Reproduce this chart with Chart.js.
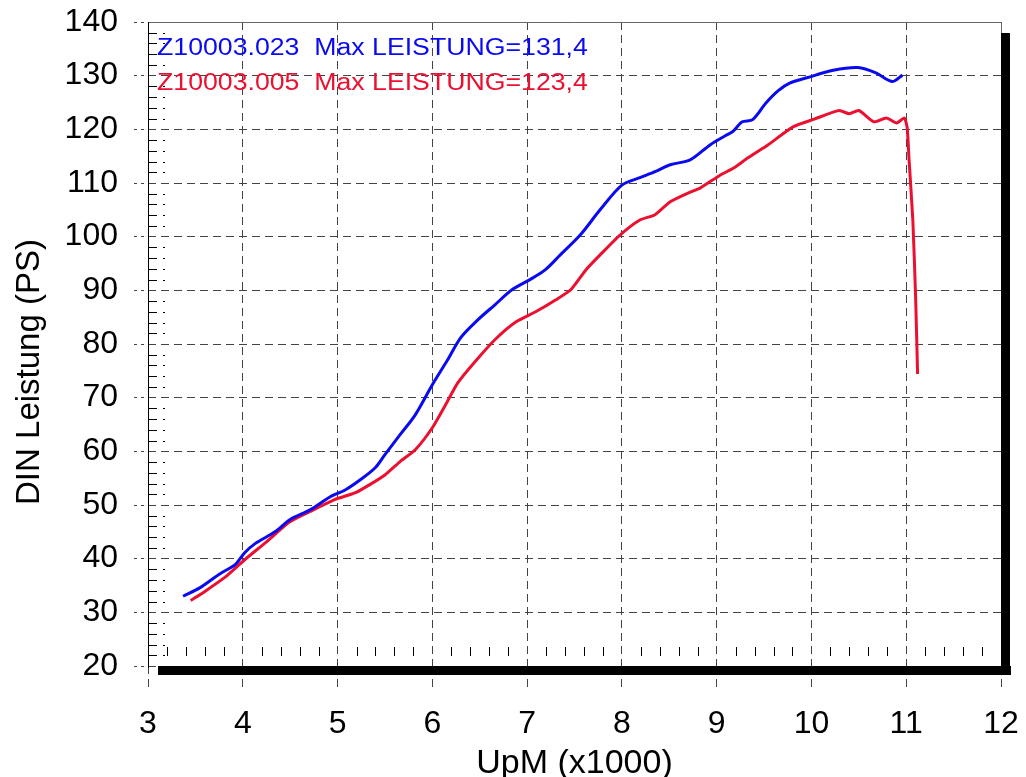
<!DOCTYPE html>
<html>
  <head>
    <title>DIN Leistung</title>
    <script src="https://cdn.jsdelivr.net/npm/chart.js"></script>
    <style>
      body { margin: 0; background: #fff; }
      .chart-container { width: 1026px; height: 777px; }
    </style>
  </head>
  <body>
    <div class="chart-container">
      <canvas id="myChart"></canvas>
    </div>

    <script>
      // series names (shown top-left of the plot)
      const seriesNames = ["Z10003.023  Max LEISTUNG=131,4", "Z10003.005  Max LEISTUNG=123,4"];

      // blue run: UpM (x1000) and PS
      const blueRpm = [3.37, 3.55, 3.76, 3.92, 4.02, 4.13, 4.34, 4.5, 4.71, 4.92, 5.08, 5.24, 5.4, 5.5, 5.66, 5.82, 6.0, 6.16, 6.3, 6.48, 6.66, 6.84, 7.03, 7.19, 7.35, 7.56, 7.77, 8.0, 8.19, 8.35, 8.51, 8.72, 8.93, 9.09, 9.17, 9.27, 9.38, 9.52, 9.65, 9.77, 9.95, 10.23, 10.49, 10.68, 10.85, 10.96];
      const bluePs = [33, 34.6, 37.2, 38.9, 41.1, 42.8, 45, 47.3, 49.1, 51.5, 52.8, 54.7, 57, 59.4, 63.1, 66.8, 72.4, 77, 81.2, 84.5, 87.3, 90.1, 92, 93.8, 96.6, 100.3, 105, 109.6, 111, 112.1, 113.4, 114.3, 117.1, 118.8, 119.6, 121.4, 121.8, 124.9, 127.2, 128.6, 129.6, 131, 131.5, 130.5, 128.9, 130.1];

      // red run
      const redRpm = [3.45, 3.6, 3.81, 4.02, 4.24, 4.5, 4.71, 4.97, 5.19, 5.34, 5.5, 5.66, 5.82, 6.0, 6.14, 6.27, 6.45, 6.66, 6.88, 7.09, 7.3, 7.46, 7.62, 7.77, 7.98, 8.19, 8.35, 8.51, 8.72, 8.83, 9.04, 9.18, 9.33, 9.54, 9.81, 10.03, 10.29, 10.4, 10.5, 10.66, 10.79, 10.9, 10.98, 11.01, 11.03, 11.07, 11.1, 11.12];
      const redPs = [32.2, 33.9, 36.5, 39.8, 43, 46.9, 48.8, 51, 52.3, 53.8, 55.6, 58.1, 60.3, 64.4, 68.7, 72.8, 76.7, 80.8, 84.1, 86, 88.2, 90.1, 93.8, 96.6, 100.3, 103.1, 104.1, 106.5, 108.3, 109.1, 111.5, 112.8, 114.7, 117.1, 120.5, 121.9, 123.5, 122.9, 123.5, 121.4, 122.1, 121.2, 122.1, 120.3, 114.3, 103, 88.2, 74.4];

      const xTitle = "UpM (x1000)";
      const yTitle = "DIN Leistung (PS)";

      const BLUE = "#0a0af0";
      const RED = "#ec1030";

      function pts(xs, ys) {
        return xs.map((x, i) => ({ x: x, y: ys[i] }));
      }

      // frame, shadow, minor ticks, labels in the corner
      const decor = {
        id: "decor",
        afterDraw(chart) {
          const ctx = chart.ctx;
          const a = chart.chartArea;
          const xs = chart.scales.x;
          const ys = chart.scales.y;
          ctx.save();

          // thin frame top/right
          ctx.strokeStyle = "#666";
          ctx.lineWidth = 1;
          ctx.beginPath();
          ctx.moveTo(a.left, a.top + 0.5);
          ctx.lineTo(a.right + 0.5, a.top + 0.5);
          ctx.lineTo(a.right + 0.5, a.bottom);
          ctx.stroke();

          // minor ticks on y
          ctx.strokeStyle = "#000";
          for (let v = 22; v < 140; v += 2) {
            if (v % 10 === 0) continue;
            const py = Math.round(ys.getPixelForValue(v)) + 0.5;
            ctx.beginPath();
            ctx.moveTo(a.left, py);
            ctx.lineTo(a.left + 9, py);
            ctx.moveTo(a.left + 15, py);
            ctx.lineTo(a.left + 17, py);
            ctx.stroke();
          }
          // minor ticks on x
          for (let i = 1; i < 45; i++) {
            if (i % 5 === 0) continue;
            const px = Math.round(xs.getPixelForValue(3 + i * 0.2)) + 0.5;
            ctx.beginPath();
            ctx.moveTo(px, a.bottom - 19);
            ctx.lineTo(px, a.bottom - 10);
            ctx.stroke();
          }

          // left axis line
          ctx.beginPath();
          ctx.moveTo(a.left + 0.5, a.top);
          ctx.lineTo(a.left + 0.5, a.bottom + 2);
          ctx.stroke();

          // shadow
          ctx.fillStyle = "#000";
          ctx.fillRect(a.left + 10, a.bottom, a.right - a.left, 9);
          ctx.fillRect(a.right, a.top + 11, 9, a.bottom - a.top - 2);

          // series names
          const colors = [BLUE, RED];
          const base = [55, 90];
          ctx.font = "23px Arial";
          ctx.textBaseline = "alphabetic";
          chart.data.datasets.forEach((ds, i) => {
            ctx.save();
            ctx.translate(a.left + 9, base[i]);
            ctx.scale(1.16, 1);
            ctx.fillStyle = colors[i];
            ctx.fillText(ds.label, 0, 0);
            ctx.restore();
          });

          // y title
          ctx.save();
          ctx.translate(30, 372);
          ctx.rotate(-Math.PI / 2);
          ctx.font = "33px Arial";
          ctx.fillStyle = "#000";
          ctx.textAlign = "center";
          ctx.textBaseline = "middle";
          ctx.fillText(yTitle, 0, 0);
          ctx.restore();

          ctx.restore();
        },
      };

      const chartData = {
        datasets: [
          {
            label: seriesNames[0],
            data: pts(blueRpm, bluePs),
            borderColor: BLUE,
            borderWidth: 3,
            pointRadius: 0,
            tension: 0.3,
            fill: false,
          },
          {
            label: seriesNames[1],
            data: pts(redRpm, redPs),
            borderColor: RED,
            borderWidth: 3,
            pointRadius: 0,
            tension: 0.2,
            fill: false,
          },
        ],
      };

      const chartOptions = {
        responsive: true,
        maintainAspectRatio: false,
        animation: false,
        layout: { padding: { top: 22, right: 25, left: 0, bottom: 0 } },
        plugins: { legend: { display: false }, tooltip: { enabled: false } },
        scales: {
          x: {
            type: "linear",
            min: 3,
            max: 12,
            afterFit(s) {
              s.height = 111;
              s.paddingLeft = 0;
              s.paddingRight = 0;
            },
            ticks: {
              stepSize: 1,
              color: "#000",
              font: { family: "Arial", size: 32 },
              padding: 17,
            },
            grid: {
              color: "#444",
              tickColor: "#444",
              tickLength: 22,
              tickBorderDash: [8, 5],
            },
            border: { display: false, dash: [8, 5] },
            title: {
              display: true,
              text: xTitle,
              color: "#000",
              font: { family: "Arial", size: 34 },
              padding: { top: 0, bottom: -7 },
            },
          },
          y: {
            min: 20,
            max: 140,
            afterFit(s) {
              s.width = 148;
              s.paddingTop = 0;
              s.paddingBottom = 0;
            },
            ticks: {
              stepSize: 10,
              color: "#000",
              font: { family: "Arial", size: 32 },
              padding: 16,
            },
            grid: {
              color: "#444",
              tickColor: "#444",
              tickLength: 14,
              tickBorderDash: [3, 4],
            },
            border: { display: false, dash: [8, 5] },
          },
        },
      };

      new Chart(document.getElementById("myChart"), {
        type: "line",
        data: chartData,
        options: chartOptions,
        plugins: [decor],
      });
    </script>
  </body>
</html>
